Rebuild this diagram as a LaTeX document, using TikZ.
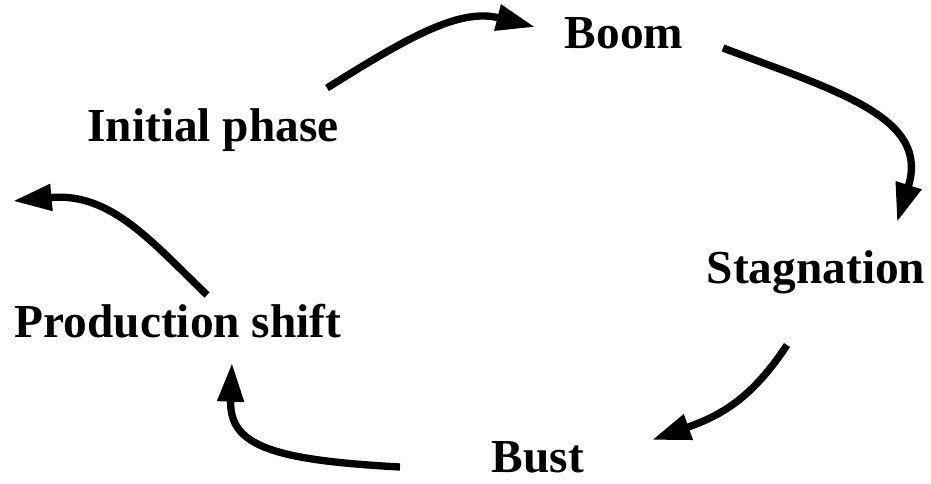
\documentclass[tikz,border=0pt]{standalone}
\usepackage{fontspec}
\setmainfont{Liberation Serif}
\usetikzlibrary{arrows.meta}

\begin{document}
\begin{tikzpicture}[x=0.75pt, y=-0.75pt,
    phase/.style={font=\fontsize{35.5}{40}\selectfont\bfseries, inner sep=0pt},
    cycle/.style={line width=5.5pt, -{Triangle[length=29pt, width=19pt]}}]
    \useasboundingbox (0,0) rectangle (931,483);

    % Phases of the cycle
    \node[phase] (boom) at (624,33) {Boom};
    \node[phase] (init) at (213,130) {Initial phase};
    \node[phase] (stag) at (816,272) {Stagnation};
    \node[phase] (prod) at (178,321) {Production shift};
    \node[phase] (bust) at (538,457) {Bust};

    % Arrow ends
    \coordinate (initout) at (327,88);
    \coordinate (boomin) at (535,27);
    \coordinate (boomout) at (723,48);
    \coordinate (stagin) at (897,222);
    \coordinate (stagout) at (787,345);
    \coordinate (bustin) at (652,440);
    \coordinate (bustout) at (400,467);
    \coordinate (prodin) at (232,363);
    \coordinate (prodout) at (207,295);
    \coordinate (restart) at (13,201);

    % Arrows
    \draw[cycle] (initout) .. controls (410,36) and (460,8) .. (boomin);
    \draw[cycle] (boomout) .. controls (840,92) and (930,118) .. (stagin);
    \draw[cycle] (stagout) .. controls (752,398) and (722,415) .. (bustin);
    \draw[cycle] (bustout) .. controls (270,460) and (229,445) .. (prodin);
    \draw[cycle] (prodout) .. controls (150,240) and (110,192) .. (restart);
\end{tikzpicture}
\end{document}
